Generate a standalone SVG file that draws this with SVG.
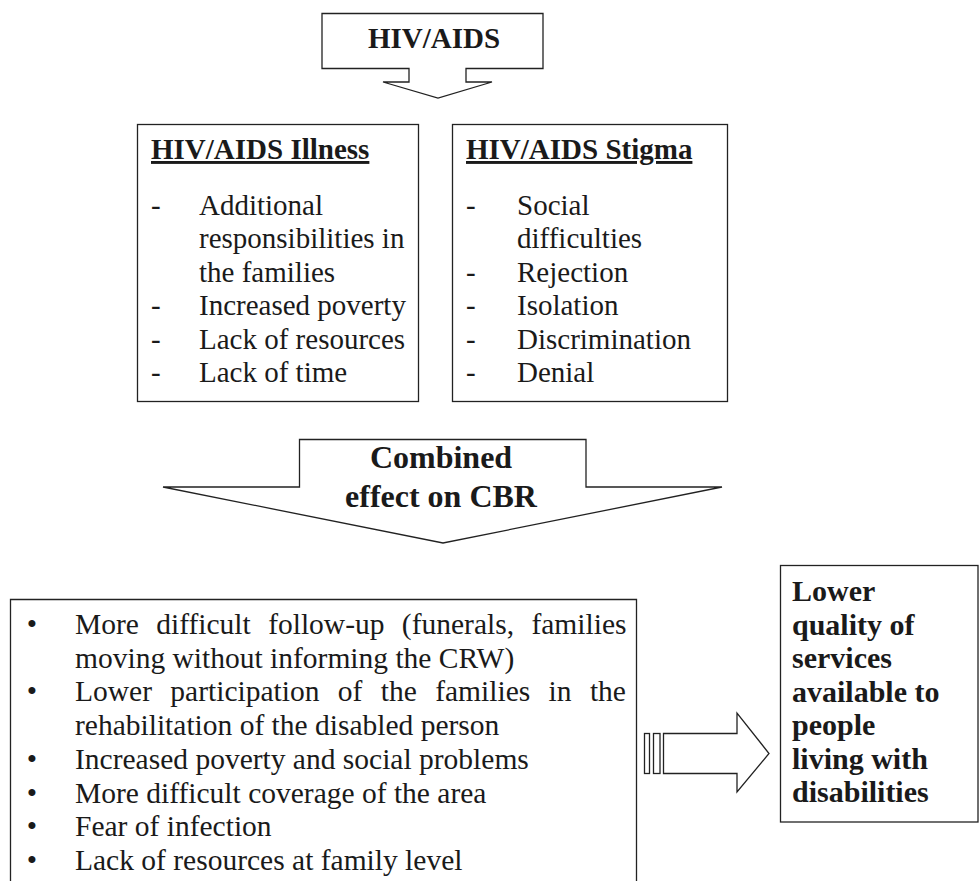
<svg xmlns="http://www.w3.org/2000/svg" width="980" height="881" viewBox="0 0 980 881">
<style>
.shape{fill:#fff;stroke:#222;stroke-width:1.3;stroke-linejoin:miter}
text{font-family:'Liberation Serif',Tinos,'Times New Roman',Times,serif;font-size:29px;fill:#1a1a1a}
.b{font-weight:bold}
.u{text-decoration:underline}
.m{text-anchor:middle}
.big{font-size:32px}
.ob{font-size:30px}
.e{font-size:29.5px}
</style>
<rect width="980" height="881" fill="#fff"/>
<g id="node-hiv">
<path class="shape" d="M322,13.5 H543 V68.5 H466 V82 H492 L438,98 L383,82 H409 V68.5 H322 Z"/>
<text class="b m" x="434" y="48">HIV/AIDS</text>
</g>
<g id="node-illness">
<rect class="shape" x="137.5" y="124.5" width="281" height="277"/>
<text class="b u" x="151" y="159">HIV/AIDS Illness</text>
<text x="151" y="215">-</text><text x="199" y="215">Additional</text>
<text x="199" y="248.4">responsibilities in</text>
<text x="199" y="281.8">the families</text>
<text x="151" y="315.2">-</text><text x="199" y="315.2">Increased poverty</text>
<text x="151" y="348.6">-</text><text x="199" y="348.6">Lack of resources</text>
<text x="151" y="382">-</text><text x="199" y="382">Lack of time</text>
</g>
<g id="node-stigma">
<rect class="shape" x="452.5" y="124.5" width="275" height="277"/>
<text class="b u" x="466" y="159">HIV/AIDS Stigma</text>
<text x="466" y="215">-</text><text x="517" y="215">Social</text>
<text x="517" y="248.4">difficulties</text>
<text x="466" y="281.8">-</text><text x="517" y="281.8">Rejection</text>
<text x="466" y="315.2">-</text><text x="517" y="315.2">Isolation</text>
<text x="466" y="348.6">-</text><text x="517" y="348.6">Discrimination</text>
<text x="466" y="382">-</text><text x="517" y="382">Denial</text>
</g>
<g id="node-combined">
<path class="shape" d="M299.5,439.5 H586 V487 H722 L443,543 L163,487 H299.5 Z"/>
<text class="b m big" x="441" y="467.5">Combined</text>
<text class="b m big" x="441" y="506.5">effect on CBR</text>
</g>
<g id="node-effects">
<path class="shape" d="M10.5,882 V599.5 H636.5 V882"/>
<text class="m e" x="32" y="634">•</text><text class="e" x="75" y="634" word-spacing="10">More difficult follow-up (funerals, families</text>
<text class="e" x="75" y="667.7">moving without informing the CRW)</text>
<text class="m e" x="32" y="701.4">•</text><text class="e" x="75" y="701.4" word-spacing="11">Lower participation of the families in the</text>
<text class="e" x="75" y="735">rehabilitation of the disabled person</text>
<text class="m e" x="32" y="768.8">•</text><text class="e" x="75" y="768.8">Increased poverty and social problems</text>
<text class="m e" x="32" y="802.5">•</text><text class="e" x="75" y="802.5">More difficult coverage of the area</text>
<text class="m e" x="32" y="836">•</text><text class="e" x="75" y="836">Fear of infection</text>
<text class="m e" x="32" y="870">•</text><text class="e" x="75" y="870">Lack of resources at family level</text>
</g>
<g id="node-outcome">
<rect class="shape" x="780.5" y="565.5" width="197.5" height="256.5"/>
<text class="b ob" x="792" y="601">Lower</text>
<text class="b ob" x="792" y="634.5">quality of</text>
<text class="b ob" x="792" y="668">services</text>
<text class="b ob" x="792" y="701.5">available to</text>
<text class="b ob" x="792" y="735">people</text>
<text class="b ob" x="792" y="768.5">living with</text>
<text class="b ob" x="792" y="802">disabilities</text>
</g>
<g id="connectors">
<rect class="shape" x="644.5" y="733.5" width="5" height="40"/>
<rect class="shape" x="653.5" y="733.5" width="6.5" height="40"/>
<path class="shape" d="M663.5,733.5 H737 V713 L769,753.5 L737,792 V773.5 H663.5 Z"/>
</g>
</svg>
